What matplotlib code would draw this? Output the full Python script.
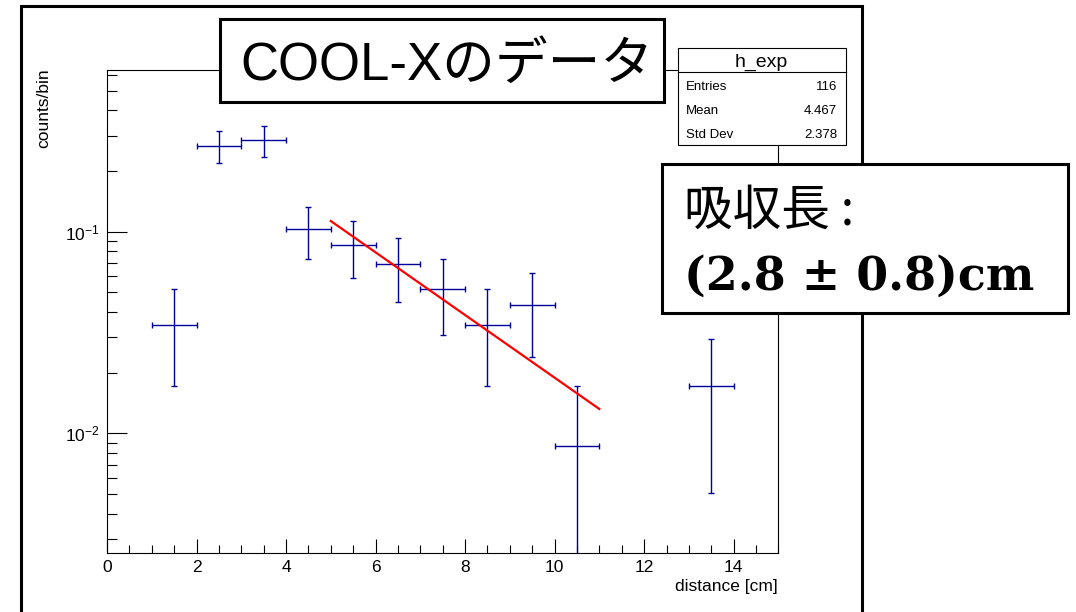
import numpy as np
import matplotlib
matplotlib.use('Agg')
import matplotlib.pyplot as plt
from matplotlib.patches import Rectangle
from matplotlib.ticker import LogLocator, NullFormatter, MultipleLocator, LogFormatterMathtext

plt.rcParams['font.family'] = ['Liberation Sans', 'Noto Sans CJK JP']
plt.rcParams['mathtext.fontset'] = 'custom'
plt.rcParams['mathtext.rm'] = 'Liberation Sans'
plt.rcParams['mathtext.it'] = 'Liberation Sans:italic'
plt.rcParams['mathtext.bf'] = 'Liberation Sans:bold'

# histogram h_exp : bin centres and counts (1 cm bins, normalised to entries)
bin_centers = [1.5, 2.5, 3.5, 4.5, 5.5, 6.5, 7.5, 8.5, 9.5, 10.5, 13.5]
counts = [4, 31, 33, 12, 10, 8, 6, 4, 5, 1, 2]
n_entries = 116
bin_width = 1.0

# exponential fit (straight line on log scale), 5..11 cm
fit_x = [5.0, 11.0]
fit_y = [0.113, 0.0132]

stats_labels = ['Entries', 'Mean', 'Std Dev']
stats_values = ['116', '4.467', '2.378']

W, H = 1076, 612

def fx(x):
    return x / W

def fy(y):
    return 1 - y / H

y = np.array(counts) / n_entries
err = np.sqrt(counts) / n_entries

fig = plt.figure(figsize=(W / 100, H / 100), dpi=100)
ax = fig.add_axes([fx(107), fy(553.3), (778.4 - 107) / W, (553.3 - 70) / H])

ax.errorbar(bin_centers, y, xerr=bin_width / 2, yerr=err, fmt='none',
            ecolor='#000099', elinewidth=1.0, capsize=2.2, capthick=1.0)
ax.plot(fit_x, fit_y, color='red', lw=1.6)

ax.set_yscale('log')
ax.set_xlim(0, 15)
ax.set_ylim(10 ** -2.595, 10 ** -0.198)

ax.xaxis.set_major_locator(MultipleLocator(2))
ax.xaxis.set_minor_locator(MultipleLocator(0.5))
ax.yaxis.set_major_locator(LogLocator(base=10, numticks=20))
ax.yaxis.set_minor_locator(LogLocator(base=10, subs=np.arange(2, 10), numticks=20))
ax.yaxis.set_major_formatter(LogFormatterMathtext())
ax.yaxis.set_minor_formatter(NullFormatter())

ax.tick_params(which='both', direction='in', top=False, right=False,
               labelsize=12.5, width=0.8, color='black')
ax.tick_params(axis='y', which='major', length=14.4, pad=5)
ax.tick_params(axis='y', which='minor', length=7.2)
ax.tick_params(axis='x', which='major', length=10, pad=5)
ax.tick_params(axis='x', which='minor', length=5.8)
for s in ax.spines.values():
    s.set_linewidth(0.8)
    s.set_color('black')

fig.text(fx(778), fy(587), 'distance [cm]', ha='right', va='center', fontsize=12.5)
fig.text(fx(44), fy(68), 'counts/bin', rotation=90, ha='center', va='top', fontsize=12.5)

# canvas border
fig.patches.append(Rectangle((fx(21), fy(660)), (862 - 21) / W, (660 - 6) / H,
                             fill=False, edgecolor='black', lw=2.2,
                             transform=fig.transFigure, zorder=2))

# title box
fig.patches.append(Rectangle((fx(220), fy(102)), (664 - 220) / W, (102 - 18.5) / H,
                             facecolor='white', edgecolor='black', lw=2.2,
                             transform=fig.transFigure, zorder=5))
fig.text(fx(240), fy(80), 'COOL-Xのデータ', fontsize=38, va='baseline', zorder=6)

# stats box
fig.patches.append(Rectangle((fx(677.5), fy(145)), (845.5 - 677.5) / W, (145 - 47.5) / H,
                             facecolor='white', edgecolor='black', lw=0.8,
                             transform=fig.transFigure, zorder=5))
fig.lines.append(plt.Line2D([fx(677.5), fx(845.5)], [fy(71.7), fy(71.7)],
                            color='black', lw=0.8, transform=fig.transFigure, zorder=6))
fig.text(fx(761.5), fy(66.7), 'h_exp', fontsize=14, ha='center', va='baseline', zorder=6)
for i, (lab, val) in enumerate(zip(stats_labels, stats_values)):
    yb = 89.5 + 24 * i
    fig.text(fx(685.5), fy(yb), lab, fontsize=9.5, ha='left', va='baseline', zorder=6)
    fig.text(fx(837), fy(yb), val, fontsize=9.5, ha='right', va='baseline', zorder=6)

# absorption length box
fig.patches.append(Rectangle((fx(661.5), fy(312.5)), (1068 - 661.5) / W, (312.5 - 164) / H,
                             facecolor='white', edgecolor='black', lw=2.2,
                             transform=fig.transFigure, zorder=5))
fig.text(fx(684), fy(225), '吸収長 :', fontsize=35, family=['Noto Sans CJK JP'],
         va='baseline', zorder=6)
fig.text(fx(684), fy(290), '(2.8 ± 0.8)cm', fontsize=33, family=['DejaVu Serif'],
         weight='bold', va='baseline', zorder=6)

fig.savefig('out.png', dpi=100)
